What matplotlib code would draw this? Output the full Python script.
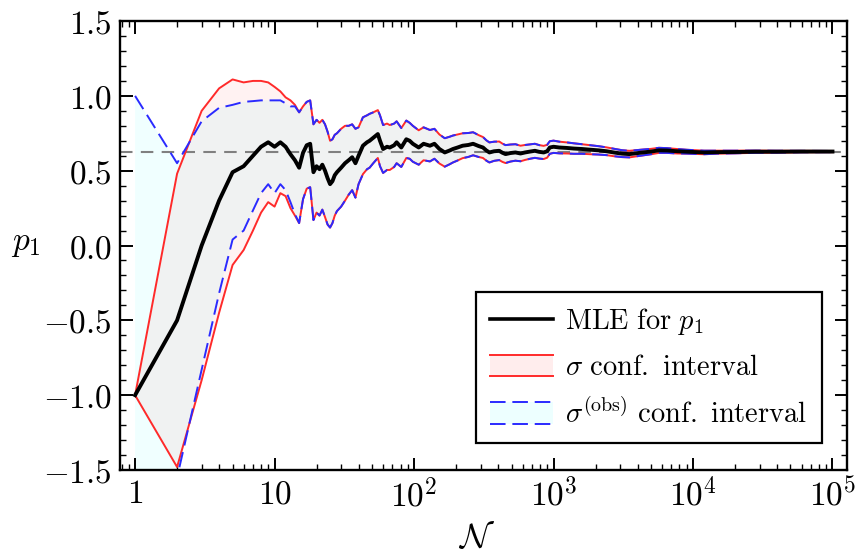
import numpy as np
import matplotlib
matplotlib.use("Agg")
import matplotlib.pyplot as plt
from matplotlib.ticker import MultipleLocator, LogLocator, NullFormatter
from matplotlib.legend_handler import HandlerBase
from matplotlib.patches import Rectangle
from matplotlib.lines import Line2D

plt.rcParams['mathtext.fontset'] = 'cm'
plt.rcParams['font.family'] = 'serif'

# sample sizes and maximum likelihood estimate
N = [1, 2, 3, 4, 5, 6, 7, 8, 9, 10, 11, 12, 13, 14, 15, 16, 17, 18, 19, 20,
     21, 22, 23, 24, 25, 26, 27, 28, 30, 32, 34, 36, 38, 40, 43, 46, 48, 51, 55, 57,
     60, 64, 67, 72, 75, 81, 88, 93, 98, 108, 117, 130,
     140, 152, 166, 180, 190, 205, 223, 245, 265, 290, 312, 330, 347, 375, 408, 430,
     453, 490, 533, 580, 625, 680, 735, 790, 850, 900, 940, 1000, 1100, 1250, 1400,
     1600, 1850, 2100, 2400, 2700, 3100, 3500, 4200, 5000, 5700, 6500, 7700, 9000,
     12000, 15000, 20000, 28000, 40000, 60000, 80000, 100000]
mle = [-1.0, -0.5, 0.0, 0.30, 0.49, 0.53, 0.60, 0.66, 0.69, 0.66, 0.69, 0.66, 0.61, 0.57,
       0.52, 0.62, 0.67, 0.68, 0.49, 0.53, 0.51, 0.54, 0.50, 0.45, 0.41, 0.43, 0.47, 0.49,
       0.52, 0.55, 0.57, 0.59, 0.55, 0.60, 0.667, 0.69, 0.70, 0.72, 0.745, 0.70, 0.645,
       0.66, 0.655, 0.67, 0.69, 0.655, 0.71, 0.70, 0.68, 0.655, 0.68, 0.667,
       0.68, 0.645, 0.622, 0.635, 0.645, 0.655, 0.667, 0.672, 0.68, 0.665, 0.655, 0.635,
       0.622, 0.63, 0.633, 0.62, 0.611, 0.618, 0.622, 0.615, 0.622, 0.628, 0.633, 0.626,
       0.622, 0.63, 0.655, 0.66, 0.655, 0.652, 0.648, 0.645, 0.64, 0.636, 0.63, 0.622,
       0.614, 0.611, 0.62, 0.628, 0.636, 0.635, 0.63, 0.627, 0.622, 0.624, 0.625, 0.627,
       0.627, 0.628, 0.628, 0.628]
# half width of the sigma interval
sig = [0.0, 0.98, 0.90, 0.75, 0.62, 0.56, 0.50, 0.44, 0.40, 0.40, 0.34, 0.33, 0.36, 0.37,
       0.37, 0.31, 0.29, 0.29, 0.32, 0.31, 0.31, 0.30, 0.31, 0.31, 0.29, 0.28, 0.27, 0.26,
       0.26, 0.25, 0.23, 0.22, 0.23, 0.19, 0.19, 0.18, 0.18, 0.17, 0.16, 0.17, 0.16,
       0.155, 0.15, 0.145, 0.14, 0.13, 0.125, 0.12, 0.12, 0.115, 0.11, 0.105,
       0.10, 0.097, 0.095, 0.092, 0.09, 0.087, 0.083, 0.08, 0.077, 0.073, 0.07, 0.068,
       0.067, 0.064, 0.062, 0.061, 0.06, 0.057, 0.055, 0.052, 0.05, 0.048, 0.047, 0.045,
       0.044, 0.043, 0.042, 0.041, 0.039, 0.037, 0.035, 0.032, 0.03, 0.028, 0.026, 0.025,
       0.023, 0.022, 0.02, 0.018, 0.017, 0.016, 0.015, 0.013, 0.012, 0.01, 0.009, 0.0075,
       0.0065, 0.005, 0.0045, 0.004]
# half width of sigma_obs interval, differs only for small N
sig_obs_early = [2.0, 1.05, 0.83, 0.62, 0.45, 0.43, 0.365, 0.31, 0.28, 0.31, 0.28, 0.29, 0.32, 0.36]
p_true = 0.625

N = np.array(N, dtype=float)
mle = np.array(mle)
sig = np.array(sig)
sig_obs = np.concatenate([sig_obs_early, sig[len(sig_obs_early):]])

red = '#ff2a2a'
blue = '#2a2aff'
dash = (8, 3.5)


class BandHandler(HandlerBase):
    def __init__(self, color, fill, dashes, alpha):
        super().__init__()
        self.color, self.fill, self.dashes, self.alpha = color, fill, dashes, alpha

    def create_artists(self, legend, orig_handle, xdescent, ydescent, width, height, fontsize, trans):
        x0, y0 = -xdescent, -ydescent
        r = Rectangle((x0, y0), width, height, facecolor=self.fill, alpha=self.alpha,
                      edgecolor='none', transform=trans)
        out = [r]
        for yy in (y0, y0 + height):
            l = Line2D([x0, x0 + width], [yy, yy], color=self.color, lw=1.4, transform=trans)
            if self.dashes:
                l.set_dashes(self.dashes)
            out.append(l)
        return out


fig = plt.figure(figsize=(8.55, 5.54), dpi=100)
ax = fig.add_axes([0.1404, 0.1516, 0.8502, 0.8104])

ax.fill_between(N, mle - sig, mle + sig, color='red', alpha=0.05, lw=0)
ax.fill_between(N, mle - sig_obs, mle + sig_obs, color='cyan', alpha=0.06, lw=0)

ax.axhline(p_true, color='gray', lw=1.5, dashes=(6, 4))

ax.plot(N, mle + sig, color=red, lw=1.4)
ax.plot(N, mle - sig, color=red, lw=1.4)
ax.plot(N, mle + sig_obs, color=blue, lw=1.4, dashes=dash)
ax.plot(N, mle - sig_obs, color=blue, lw=1.4, dashes=dash)
ax.plot(N, mle, color='black', lw=2.8)

ax.set_xscale('log')
ax.set_xlim(0.78, 1.27e5)
ax.set_ylim(-1.5, 1.5)

ax.set_xticks([1, 10, 1e2, 1e3, 1e4, 1e5])
ax.set_xticklabels(['$1$', '$10$', '$10^{2}$', '$10^{3}$', '$10^{4}$', '$10^{5}$'])
ax.xaxis.set_minor_locator(LogLocator(base=10, subs=np.arange(2, 10), numticks=20))
ax.xaxis.set_minor_formatter(NullFormatter())
yt = [-1.5, -1.0, -0.5, 0.0, 0.5, 1.0, 1.5]
ax.set_yticks(yt)
ax.set_yticklabels(['$%.1f$' % v for v in yt])
ax.yaxis.set_minor_locator(MultipleLocator(0.1))

ax.tick_params(which='both', direction='in', top=True, right=True, labelsize=24)
ax.tick_params(which='major', length=9, width=1.4, pad=6)
ax.tick_params(which='minor', length=4.5, width=1.0)
for s in ax.spines.values():
    s.set_linewidth(1.7)

ax.set_xlabel(r'$\mathcal{N}$', fontsize=25)
ax.xaxis.set_label_coords(0.49, -0.112)
ax.set_ylabel(r'$p_1$', fontsize=24, rotation=0)
ax.yaxis.set_label_coords(-0.13, 0.47)

h_mle = Line2D([], [], color='black', lw=2.6)
h_sig = Rectangle((0, 0), 1, 1)
h_obs = Rectangle((0, 0), 1, 1)
leg = ax.legend([h_mle, h_sig, h_obs],
                [r'$\mathrm{MLE\ for}\ p_1$', r'$\sigma\ \mathrm{conf.\ interval}$',
                 r'$\sigma^{(\mathrm{obs})}\ \mathrm{conf.\ interval}$'],
                handler_map={h_sig: BandHandler(red, 'red', None, 0.07),
                             h_obs: BandHandler(blue, 'cyan', dash, 0.07)},
                loc='lower right', bbox_to_anchor=(0.9656, 0.06), borderaxespad=0,
                fontsize=20.5, fancybox=False, framealpha=1, edgecolor='black',
                handlelength=2.2, handleheight=0.8, labelspacing=0.6, borderpad=0.5,
                handletextpad=0.45)
leg.get_frame().set_linewidth(1.6)

fig.savefig('out.png', dpi=100)
